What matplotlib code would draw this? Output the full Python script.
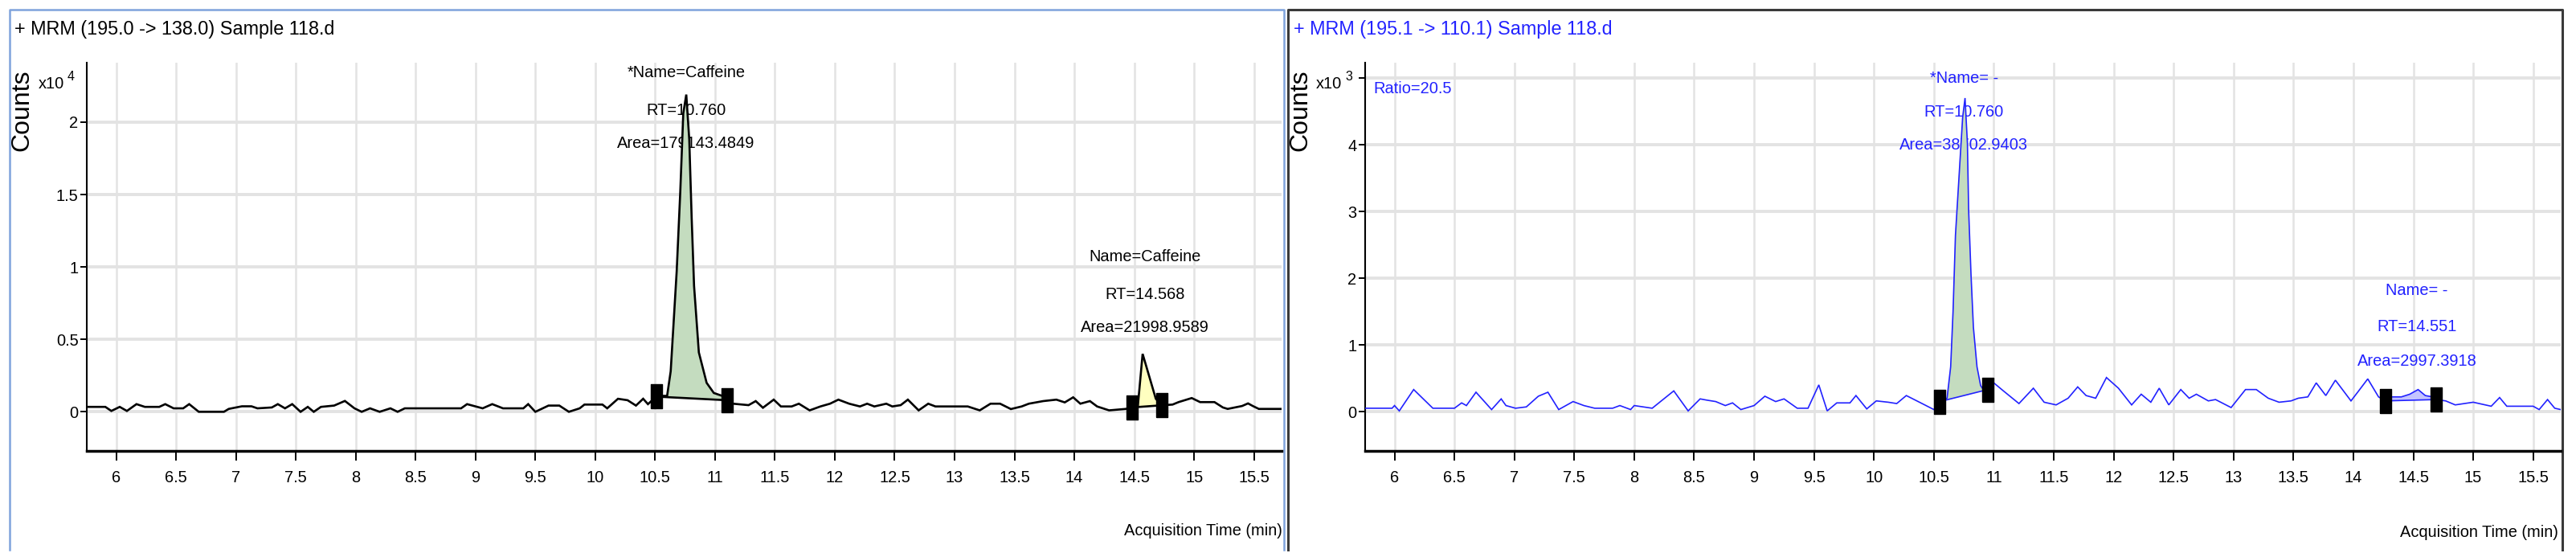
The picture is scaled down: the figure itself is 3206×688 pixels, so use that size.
import numpy as np
import matplotlib
matplotlib.use("Agg")
import matplotlib.pyplot as plt
from matplotlib import font_manager

# fonts: condensed look of the instrument software
names = {f.name for f in font_manager.fontManager.ttflist}
if 'Liberation Sans Narrow' in names:
    NARROW, FS = 'Liberation Sans Narrow', 17.5
else:
    NARROW, FS = 'Liberation Sans', 14.4
PLAIN = 'Liberation Sans'

# ---------------- data ----------------
# left channel, counts x10^4
left_t = [5.76, 5.83, 5.91, 5.96, 6.03, 6.09, 6.17, 6.24, 6.36, 6.41,
          6.48, 6.56, 6.61, 6.69, 6.90, 6.94, 7.05, 7.13, 7.18, 7.30,
          7.35, 7.41, 7.47, 7.54, 7.60, 7.65, 7.71, 7.82, 7.91, 7.99,
          8.05, 8.12, 8.20, 8.29, 8.35, 8.41, 8.88, 8.93, 9.06, 9.14,
          9.23, 9.40, 9.44, 9.50, 9.61, 9.70, 9.78, 9.87, 9.91, 10.06,
          10.10, 10.19, 10.27, 10.34, 10.40, 10.44, 10.51, 10.56, 10.60, 10.63,
          10.68, 10.71, 10.735, 10.76, 10.785, 10.805, 10.825, 10.865, 10.93, 10.99,
          11.06, 11.10, 11.15, 11.28, 11.34, 11.40, 11.49, 11.55, 11.64, 11.70,
          11.79, 11.88, 11.96, 12.03, 12.12, 12.21, 12.27, 12.33, 12.43, 12.48,
          12.55, 12.61, 12.70, 12.78, 12.84, 12.96, 13.11, 13.21, 13.30, 13.38,
          13.47, 13.56, 13.62, 13.74, 13.85, 13.92, 13.99, 14.05, 14.13, 14.19,
          14.29, 14.43, 14.48, 14.53, 14.57, 14.68, 14.73, 14.82, 14.87, 14.98,
          15.05, 15.17, 15.24, 15.28, 15.40, 15.45, 15.49, 15.54, 15.73]
left_v = [0.034, 0.034, 0.034, 0.006, 0.034, 0.006, 0.053, 0.034, 0.034, 0.053,
          0.024, 0.024, 0.053, 0.0, 0.0, 0.02, 0.038, 0.038, 0.024, 0.03,
          0.053, 0.024, 0.053, 0.0, 0.034, 0.0, 0.034, 0.043, 0.075, 0.024,
          0.0, 0.024, 0.0, 0.024, 0.0, 0.024, 0.024, 0.053, 0.024, 0.053,
          0.024, 0.024, 0.053, 0.0, 0.043, 0.043, 0.0, 0.024, 0.05, 0.05,
          0.024, 0.09, 0.08, 0.043, 0.09, 0.053, 0.105, 0.11, 0.11, 0.28,
          0.97, 1.52, 2.06, 2.19, 1.88, 1.34, 0.87, 0.41, 0.20, 0.13,
          0.11, 0.08, 0.056, 0.046, 0.074, 0.028, 0.084, 0.037, 0.037, 0.056,
          0.01, 0.037, 0.056, 0.084, 0.056, 0.037, 0.056, 0.037, 0.056, 0.037,
          0.046, 0.084, 0.01, 0.056, 0.037, 0.037, 0.037, 0.01, 0.056, 0.056,
          0.019, 0.037, 0.056, 0.074, 0.084, 0.065, 0.10, 0.056, 0.074, 0.037,
          0.01, 0.02, 0.03, 0.04, 0.40, 0.09, 0.045, 0.05, 0.067, 0.095,
          0.067, 0.067, 0.03, 0.02, 0.04, 0.058, 0.04, 0.02, 0.02]
# integration start/end of each peak
left_peaks = [(10.51, 0.105, 11.10, 0.08), (14.48, 0.03, 14.73, 0.045)]
left_labels = [("*Name=Caffeine", "RT=10.760", "Area=179143.4849"),
               ("Name=Caffeine", "RT=14.568", "Area=21998.9589")]
left_label_x = [10.76, 14.59]
left_label_y = [[2.34, 2.08, 1.85], [1.07, 0.81, 0.58]]

# right channel, counts x10^3
right_t = [5.76, 5.98, 6.00, 6.04, 6.16, 6.32, 6.50, 6.56, 6.60, 6.68,
           6.81, 6.89, 6.93, 7.01, 7.10, 7.20, 7.28, 7.37, 7.49, 7.58,
           7.67, 7.82, 7.88, 7.97, 8.00, 8.15, 8.33, 8.45, 8.55, 8.61,
           8.68, 8.76, 8.82, 8.89, 9.00, 9.09, 9.18, 9.25, 9.36, 9.45,
           9.54, 9.61, 9.69, 9.80, 9.85, 9.94, 10.02, 10.12, 10.19, 10.27,
           10.38, 10.50, 10.55, 10.61, 10.64, 10.66, 10.68, 10.70, 10.72, 10.74,
           10.76, 10.78, 10.79, 10.81, 10.83, 10.86, 10.89, 10.92, 10.95, 11.00,
           11.08, 11.21, 11.33, 11.42, 11.52, 11.62, 11.70, 11.77, 11.85, 11.94,
           12.04, 12.15, 12.23, 12.31, 12.38, 12.46, 12.56, 12.63, 12.69, 12.79,
           12.85, 12.98, 13.10, 13.19, 13.29, 13.38, 13.48, 13.54, 13.62, 13.69,
           13.77, 13.85, 13.98, 14.04, 14.12, 14.21, 14.27, 14.32, 14.40, 14.47,
           14.54, 14.60, 14.66, 14.69, 14.77, 14.85, 15.00, 15.15, 15.22, 15.28,
           15.50, 15.55, 15.62, 15.68, 15.73]
right_v = [0.05, 0.05, 0.09, 0.01, 0.33, 0.05, 0.05, 0.13, 0.09, 0.29,
           0.03, 0.19, 0.09, 0.05, 0.07, 0.23, 0.29, 0.03, 0.15, 0.09,
           0.05, 0.05, 0.09, 0.03, 0.09, 0.05, 0.31, 0.01, 0.19, 0.17,
           0.15, 0.09, 0.13, 0.03, 0.09, 0.23, 0.15, 0.19, 0.05, 0.05,
           0.40, 0.01, 0.13, 0.13, 0.24, 0.04, 0.16, 0.14, 0.12, 0.24,
           0.14, 0.03, 0.15, 0.20, 0.67, 1.50, 2.64, 3.23, 3.82, 4.41,
           4.70, 4.02, 3.03, 2.05, 1.26, 0.67, 0.39, 0.31, 0.33, 0.43,
           0.31, 0.12, 0.35, 0.14, 0.10, 0.20, 0.37, 0.24, 0.20, 0.51,
           0.35, 0.10, 0.26, 0.14, 0.35, 0.10, 0.33, 0.20, 0.26, 0.16,
           0.18, 0.06, 0.33, 0.33, 0.20, 0.14, 0.16, 0.20, 0.22, 0.43,
           0.24, 0.47, 0.16, 0.30, 0.49, 0.22, 0.16, 0.22, 0.22, 0.26,
           0.33, 0.24, 0.22, 0.18, 0.16, 0.10, 0.14, 0.08, 0.21, 0.08,
           0.08, 0.03, 0.18, 0.05, 0.03]
right_peaks = [(10.55, 0.15, 10.95, 0.33), (14.27, 0.16, 14.69, 0.18)]
right_labels = [("*Name= -", "RT=10.760", "Area=38702.9403"),
                ("Name= -", "RT=14.551", "Area=2997.3918")]
right_label_x = [10.75, 14.53]
right_label_y = [[5.0, 4.49, 4.0], [1.81, 1.27, 0.75]]

xticks = [6, 6.5, 7, 7.5, 8, 8.5, 9, 9.5, 10, 10.5, 11, 11.5, 12, 12.5,
          13, 13.5, 14, 14.5, 15, 15.5]
xtick_labels = ['6', '6.5', '7', '7.5', '8', '8.5', '9', '9.5', '10', '10.5',
                '11', '11.5', '12', '12.5', '13', '13.5', '14', '14.5', '15', '15.5']
left_yticks = [0, 0.5, 1, 1.5, 2]
left_ytick_labels = ['0', '0.5', '1', '1.5', '2']
right_yticks = [0, 1, 2, 3, 4, 5]
right_ytick_labels = ['0', '1', '2', '3', '4', '']

BLUE = '#2222ff'
rect_marker = [(-0.5, -1), (0.5, -1), (0.5, 1), (-0.5, 1), (-0.5, -1)]

fig = plt.figure(figsize=(32.06, 6.88), dpi=100)
bg = fig.add_axes([0, 0, 1, 1], zorder=0)
bg.set_xlim(0, 3206)
bg.set_ylim(688, 0)
bg.axis('off')

# panel frames
bg.plot([12, 12, 1598, 1598], [684, 12, 12, 684], color='#7fa3dc', lw=1.8)
bg.plot([1603, 1603, 3189, 3189], [684, 12, 12, 684], color='#3a3a3a', lw=2.2)

# panel headers and axis labels
TFS = FS * 1.17
bg.text(18, 37, "+ MRM (195.0 -> 138.0) Sample 118.d", family=NARROW, size=TFS,
        ha='left', va='center', color='black')
bg.text(1610, 37, "+ MRM (195.1 -> 110.1) Sample 118.d", family=NARROW, size=TFS,
        ha='left', va='center', color=BLUE)
for x0 in [27, 1618]:
    bg.text(x0, 137, "Counts", family=PLAIN, size=23, rotation=90,
            ha='center', va='center')
for x0, x1, exp in [(48, 84, '4'), (1638, 1674, '3')]:
    bg.text(x0, 105, "x10", family=NARROW, size=FS, ha='left', va='center')
    bg.text(x1, 96, exp, family=NARROW, size=FS * 0.8, ha='left', va='center')
bg.text(1596, 661, "Acquisition Time (min)", family=NARROW, size=FS,
        ha='right', va='center')
bg.text(3184, 662, "Acquisition Time (min)", family=NARROW, size=FS,
        ha='right', va='center')


def panel(rect, t, v, peaks, fills, color, lw, ylim, yticks, ylabels,
          labels, lab_x, lab_y, txtcolor):
    ax = fig.add_axes(rect, zorder=1)
    ax.set_facecolor('none')
    ax.set_xlim(5.755, 15.73)
    ax.set_ylim(*ylim)
    ax.set_xticks(xticks)
    ax.set_xticklabels(xtick_labels, family=NARROW, size=FS)
    ax.set_yticks(yticks)
    ax.set_yticklabels(ylabels, family=NARROW, size=FS)
    ax.tick_params(axis='x', direction='out', length=8.6, width=1.4, pad=9)
    ax.tick_params(axis='y', direction='out', length=5.5, width=1.4, pad=2)
    for s in ['top', 'right']:
        ax.spines[s].set_visible(False)
    ax.spines['left'].set_linewidth(1.5)
    ax.spines['bottom'].set_linewidth(2.5)
    ax.set_axisbelow(True)
    ax.xaxis.grid(True, color='#e3e3e3', lw=1.8)
    ax.yaxis.grid(True, color='#e3e3e3', lw=2.8)

    t = np.asarray(t)
    v = np.asarray(v)
    ax.plot(t, v, color=color, lw=lw, zorder=4, solid_joinstyle='miter')
    for (ts, vs, te, ve), fc in zip(peaks, fills):
        inside = (t > ts) & (t < te)
        px = [ts] + list(t[inside]) + [te]
        py = [vs] + list(v[inside]) + [ve]
        ax.fill(px, py, color=fc, zorder=3, lw=0)
        ax.plot([ts, te], [vs, ve], color=color, lw=lw, zorder=4)
        ax.plot([ts, te], [vs, ve], ls='none', marker=rect_marker,
                markersize=21, color='black', zorder=5)
    for lines, x, ys in zip(labels, lab_x, lab_y):
        for s, y in zip(lines, ys):
            ax.text(x, y, s, family=NARROW, size=FS, color=txtcolor,
                    ha='center', va='center', zorder=2.5)
    return ax


panel([108 / 3206, 1 - 561 / 688, (1595 - 108) / 3206, (561 - 78) / 688],
      left_t, left_v, left_peaks, ['#c4dcbf', '#ffffc0'], 'black', 1.9,
      (-0.27, 2.41), left_yticks, left_ytick_labels,
      left_labels, left_label_x, left_label_y, 'black')
axr = panel([1699 / 3206, 1 - 561 / 688, (3187 - 1699) / 3206, (561 - 78) / 688],
            right_t, right_v, right_peaks, ['#c4dcbf', '#c4c4ff'], BLUE, 1.2,
            (-0.59, 5.23), right_yticks, right_ytick_labels,
            right_labels, right_label_x, right_label_y, BLUE)
axr.text(0.007, 0.932, "Ratio=20.5", transform=axr.transAxes, family=NARROW,
         size=FS, ha='left', va='center', color=BLUE, zorder=2.5)

fig.savefig("out.png", dpi=100)
